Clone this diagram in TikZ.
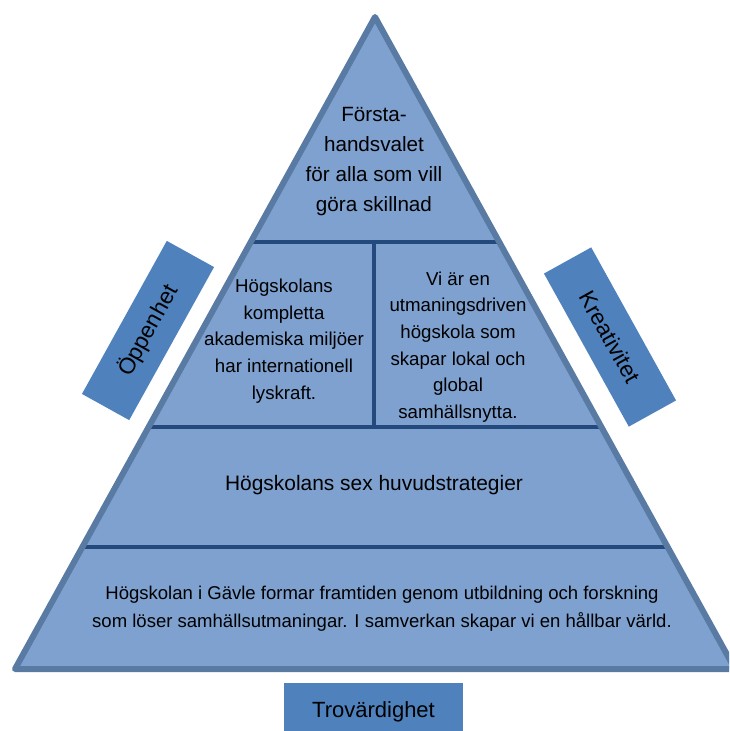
\documentclass[tikz,border=0pt]{standalone}
\usepackage{fontspec}
\setmainfont{Liberation Sans}
\definecolor{trifill}{HTML}{7EA1CF}
\definecolor{triborder}{HTML}{587AA3}
\definecolor{divline}{HTML}{24497D}
\definecolor{boxblue}{HTML}{4F81BD}
\begin{document}
\begin{tikzpicture}[x=0.75pt,y=-0.75pt,
  divider/.style={draw=divline, line width=3pt},
  sidelabel/.style={fill=boxblue, minimum width=131.25pt, minimum height=40.5pt, inner sep=0pt, font=\fontsize{17}{20}\selectfont},
  txt/.style={align=center, inner sep=0pt}
]
\useasboundingbox (0,0) rectangle (729,731);
\clip (0,0) rectangle (729,731);
\coordinate (apex) at (375,17);
\coordinate (bl) at (15,669);
\coordinate (br) at (735,669);
\fill[trifill] (apex) -- (bl) -- (br) -- cycle;
\begin{scope}
  \clip (apex) -- (bl) -- (br) -- cycle;
  \coordinate (d1l) at (0,242);   \coordinate (d1r) at (729,242);
  \coordinate (d2l) at (0,427);   \coordinate (d2r) at (729,427);
  \coordinate (d3l) at (0,547);   \coordinate (d3r) at (729,547);
  \coordinate (vt) at (374,242);  \coordinate (vb) at (374,427);
  \draw[divider] (d1l) -- (d1r);
  \draw[divider] (d2l) -- (d2r);
  \draw[divider] (d3l) -- (d3r);
  \draw[divider] (vt) -- (vb);
\end{scope}
\draw[draw=triborder, line width=4.5pt, line join=round] (apex) -- (bl) -- (br) -- cycle;

\node[txt, font=\fontsize{15.5}{22.5}\selectfont] (top) at (374,162) {Första-\\handsvalet\\för alla som vill\\göra skillnad};
\node[txt, font=\fontsize{14}{20}\selectfont] (left) at (284,341) {Högskolans\\kompletta\\akademiska miljöer\\har internationell\\lyskraft.};
\node[txt, font=\fontsize{14}{20}\selectfont] (right) at (458,347) {Vi är en\\utmaningsdriven\\högskola som\\skapar lokal och\\global\\samhällsnytta.};
\node[txt, font=\fontsize{15.7}{19}\selectfont] (mid) at (374,485) {Högskolans sex huvudstrategier};
\node[txt, font=\fontsize{13.9}{21}\selectfont] (bottom) at (382,609) {Högskolan i Gävle formar framtiden genom utbildning och forskning\\som löser samhällsutmaningar. I samverkan skapar vi en hållbar värld.};

\node[sidelabel, rotate=61] (oppen) at (148,330.5) {Öppenhet};
\node[sidelabel, rotate=-61] (kreat) at (610,337) {Kreativitet};
\node[fill=boxblue, minimum width=134.25pt, minimum height=42.75pt, inner sep=0pt, font=\fontsize{16.5}{19}\selectfont] (trov) at (373.5,711.5) {Trovärdighet};
\end{tikzpicture}
\end{document}
